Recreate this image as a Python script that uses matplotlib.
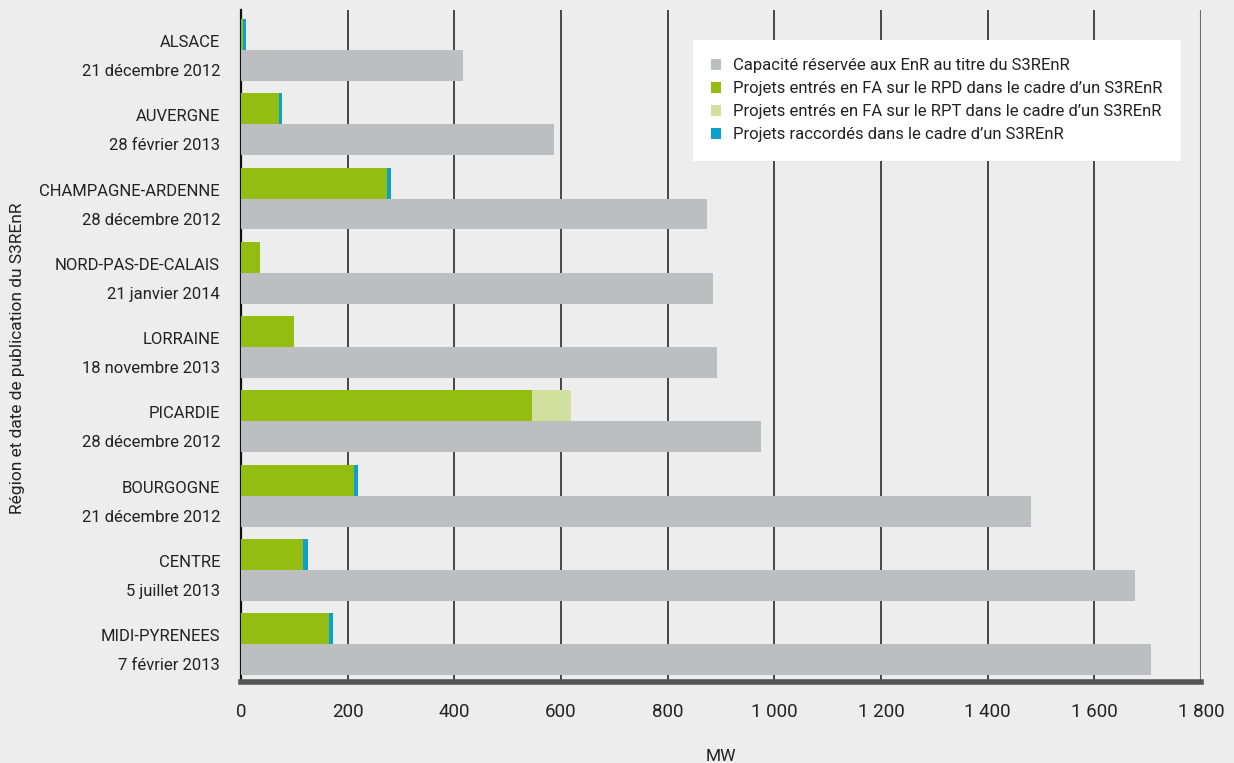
import matplotlib.pyplot as plt
import matplotlib.transforms as mtransforms
import numpy as np

# données (MW)
regions = ["ALSACE", "AUVERGNE", "CHAMPAGNE-ARDENNE", "NORD-PAS-DE-CALAIS", "LORRAINE",
           "PICARDIE", "BOURGOGNE", "CENTRE", "MIDI-PYRENEES"]
dates = ["21 décembre 2012", "28 février 2013", "28 décembre 2012", "21 janvier 2014",
         "18 novembre 2013", "28 décembre 2012", "21 décembre 2012", "5 juillet 2013",
         "7 février 2013"]
capacite = [416, 587, 874, 885, 893, 975, 1481, 1676, 1706]
fa_rpd = [4, 71, 274, 35, 99, 546, 211, 116, 165]
fa_rpt = [0, 0, 0, 0, 0, 73, 0, 0, 0]
raccordes = [6, 6, 7, 0, 0, 0, 8, 9, 7]
xticks = [0, 200, 400, 600, 800, 1000, 1200, 1400, 1600, 1800]
xtick_labels = ["0", "200", "400", "600", "800", "1 000", "1 200", "1 400", "1 600", "1 800"]

legend_labels = ["Capacité réservée aux EnR au titre du S3REnR",
                 "Projets entrés en FA sur le RPD dans le cadre d\u2019un S3REnR",
                 "Projets entrés en FA sur le RPT dans le cadre d\u2019un S3REnR",
                 "Projets raccordés dans le cadre d\u2019un S3REnR"]

bg = "#ECEDEC"
c_grey = "#BDBEC0"
c_green = "#93BD10"
c_light = "#D1E09D"
c_blue = "#0AA0CF"
txt = "#222222"
font = ["Roboto", "DejaVu Sans"]

fig = plt.figure(figsize=(12.34, 7.63), dpi=100, facecolor=bg)
ax = fig.add_axes([241 / 1234, 1 - 682 / 763, 960 / 1234, 672 / 763])
ax.set_facecolor(bg)

y = np.arange(len(regions))
h = 0.416
y_top = y - h / 2
y_bot = y + h / 2

rpd = np.array(fa_rpd)
rpt = np.array(fa_rpt)
rac = np.array(raccordes)

b_cap = ax.barh(y_bot, capacite, height=h, color=c_grey, zorder=3)
b_rpd = ax.barh(y_top, rpd, height=h, color=c_green, zorder=3)
b_rpt = ax.barh(y_top, rpt, left=rpd, height=h, color=c_light, zorder=3)
b_rac = ax.barh(y_top, rac, left=rpd + rpt, height=h, color=c_blue, zorder=3)

ax.set_xlim(0, 1800)
ax.set_ylim(8.51, -0.54)

# grille verticale
for xv in xticks[1:-1]:
    ax.axvline(xv, color="#2a2a2a", lw=1.2, zorder=1)
ax.axvline(1800, color="#6a6a6a", lw=1.5, zorder=1)

for s in ["top", "right"]:
    ax.spines[s].set_visible(False)
ax.spines["left"].set_color("#111111")
ax.spines["left"].set_linewidth(1.6)
ax.spines["left"].set_zorder(2)
ax.spines["bottom"].set_color("#555555")
ax.spines["bottom"].set_linewidth(4)

ax.set_xticks(xticks)
ax.set_xticklabels(xtick_labels, family=font, fontsize=13.5, color=txt)
ax.tick_params(axis="x", length=0, pad=15)
ax.set_yticks([])

# étiquettes des régions et dates
trans = mtransforms.blended_transform_factory(ax.transAxes, ax.transData)
off = mtransforms.offset_copy(trans, fig=fig, x=-21, y=0, units="dots")
for i in range(len(regions)):
    ax.text(0, y[i] - 0.1, regions[i], transform=off, ha="right", va="center",
            family=font, fontsize=12, color=txt)
    ax.text(0, y[i] + 0.29, dates[i], transform=off, ha="right", va="center",
            family=font, fontsize=12, color=txt)

ax.set_xlabel("MW", family=font, fontsize=12.5, color=txt, labelpad=20)
fig.text(18 / 1234, 1 - 358 / 763, "Région et date de publication du S3REnR", rotation=90,
         ha="center", va="center", family=font, fontsize=12.5, color=txt)

leg = ax.legend([b_cap, b_rpd, b_rpt, b_rac], legend_labels,
                loc="upper left", bbox_to_anchor=(693 / 1234, 1 - 40 / 763),
                bbox_transform=fig.transFigure, borderaxespad=0,
                prop={"family": font, "size": 12},
                handlelength=0.6, handleheight=0.6, handletextpad=0.7,
                labelspacing=0.48, borderpad=1.1, fancybox=False,
                facecolor="white", edgecolor="white", framealpha=1)
leg.get_frame().set_linewidth(0)
leg.set_zorder(5)
for t in leg.get_texts():
    t.set_color(txt)

fig.savefig("out.png", dpi=100, facecolor=bg)
